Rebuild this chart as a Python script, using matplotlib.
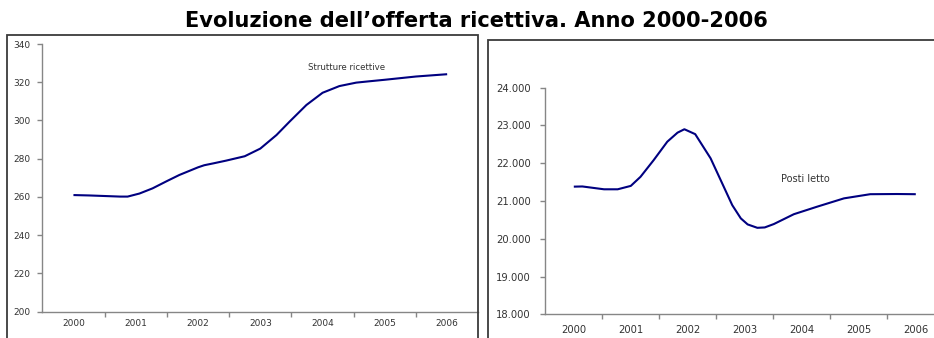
import matplotlib
matplotlib.use("Agg")
import matplotlib.pyplot as plt
from matplotlib.patches import Rectangle
from matplotlib.ticker import FuncFormatter

years = [2000, 2001, 2002, 2003, 2004, 2005, 2006]

# offerta ricettiva, posizione in anni dal 2000
strutture_x = [0.0, 0.25, 0.5, 0.75, 0.87, 1.06, 1.27, 1.5, 1.7, 2.0, 2.1, 2.25, 2.45,
               2.75, 3.0, 3.26, 3.47, 3.74, 4.0, 4.27, 4.54, 4.75, 5.0, 5.5, 6.0]
strutture = [261, 260.8, 260.5, 260.2, 260.2, 261.8, 264.5, 268.3, 271.5, 275.5, 276.6,
             277.6, 279.0, 281.3, 285.3, 292.4, 299.4, 308.1, 314.5, 318.0, 319.8,
             320.5, 321.3, 323.0, 324.2]

posti_x = [0.0, 0.15, 0.53, 0.77, 1.0, 1.17, 1.4, 1.64, 1.82, 1.94, 2.13, 2.4, 2.63,
           2.78, 2.93, 3.05, 3.22, 3.35, 3.51, 3.86, 4.27, 4.74, 5.2, 5.67, 6.0]
posti = [21380, 21385, 21310, 21310, 21400, 21640, 22080, 22570, 22810, 22900, 22770,
         22130, 21380, 20890, 20540, 20380, 20290, 20300, 20390, 20650, 20850, 21070,
         21180, 21185, 21180]

navy = "#000080"
axis_grey = "#868686"
text_col = "#333333"

fig = plt.figure(figsize=(9.34, 3.38), dpi=100)

# cornici dei due grafici
fig.patches.append(Rectangle((7.3 / 934, -0.1), (477.7 - 7.3) / 934, 1.1 - 35 / 338,
                             transform=fig.transFigure, fill=False,
                             edgecolor="#3a3a3a", linewidth=1.3))
fig.patches.append(Rectangle((487.7 / 934, -0.1), 0.6, 1.1 - 40 / 338,
                             transform=fig.transFigure, fill=False,
                             edgecolor="#3a3a3a", linewidth=1.3))

fig.text(476.7 / 934, 1 - 27.3 / 338, "Evoluzione dell\u2019offerta ricettiva. Anno 2000-2006",
         ha="center", va="baseline", fontsize=15.1, fontweight="bold", color="black")


def style_axes(ax, fsize, ypad, xpad):
    for side in ["top", "right"]:
        ax.spines[side].set_visible(False)
    for side in ["left", "bottom"]:
        ax.spines[side].set_color(axis_grey)
        ax.spines[side].set_linewidth(1.0)
    ax.set_xlim(-0.5, 6.5)
    ax.set_xticks([i - 0.5 for i in range(1, 7)])
    ax.set_xticklabels([])
    ax.set_xticks(range(len(years)), minor=True)
    ax.set_xticklabels([str(y) for y in years], minor=True)
    ax.tick_params(axis="x", which="major", direction="out", length=3.5,
                   color=axis_grey, width=1.0)
    ax.tick_params(axis="x", which="minor", length=0, pad=xpad,
                   labelsize=fsize, labelcolor=text_col)
    ax.tick_params(axis="y", direction="out", length=3.5, color=axis_grey, width=1.0,
                   pad=ypad, labelsize=fsize, labelcolor=text_col)


# Strutture ricettive
ax1 = fig.add_axes([42.3 / 934, 1 - 311.7 / 338, 436 / 934, (311.7 - 44) / 338])
ax1.plot(strutture_x, strutture, color=navy, linewidth=1.5, solid_capstyle="butt",
         solid_joinstyle="round")
ax1.set_ylim(200, 340)
ax1.set_yticks(range(200, 341, 20))
style_axes(ax1, 6.5, 5.0, 5.5)
ax1.text(4.39, 327.6, "Strutture ricettive", ha="center", va="center",
         fontsize=6.2, color=text_col)

# Posti letto
ax2 = fig.add_axes([545.3 / 934, 1 - 314.3 / 338, 399 / 934, (314.3 - 87.7) / 338])
ax2.plot(posti_x, posti, color=navy, linewidth=1.5, solid_capstyle="butt",
         solid_joinstyle="round")
ax2.set_ylim(18000, 24000)
ax2.set_yticks(range(18000, 24001, 1000))
ax2.yaxis.set_major_formatter(FuncFormatter(lambda v, p: f"{int(v):,}".replace(",", ".")))
style_axes(ax2, 7.2, 7.0, 7.5)
ax2.text(4.07, 21573, "Posti letto", ha="center", va="center",
         fontsize=7.0, color=text_col)

fig.savefig("out.png", dpi=100)
